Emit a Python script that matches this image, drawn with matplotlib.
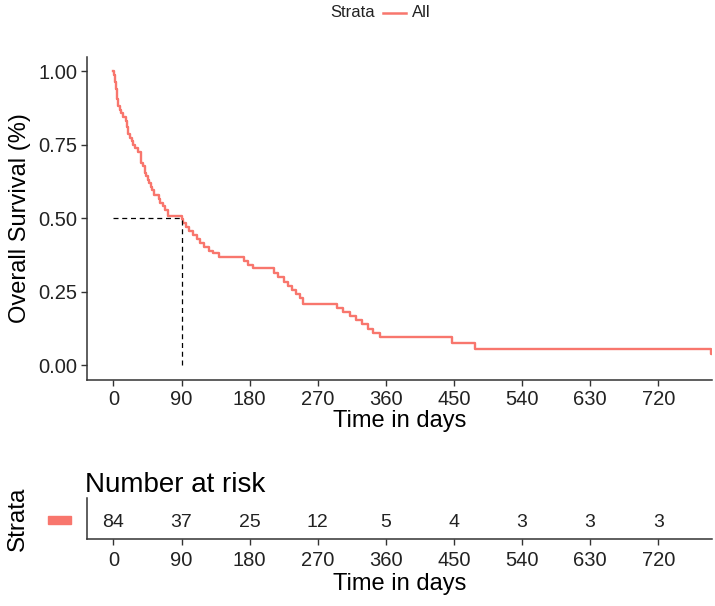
import numpy as np
import matplotlib.pyplot as plt

plt.rcParams['font.family'] = ['Liberation Sans', 'DejaVu Sans']

# Kaplan-Meier curve (step after each time)
time = [0, 1, 2, 3, 4, 5, 6, 8, 10, 13, 17, 18, 19, 22, 24, 26, 29, 33, 36, 37,
        39, 41, 43, 45, 47, 49, 51, 53, 60, 62, 65, 68, 72, 90, 92, 96, 100, 105,
        110, 115, 120, 126, 132, 140, 173, 178, 185, 212, 218, 225, 230, 236,
        241, 246, 250, 296, 303, 312, 320, 328, 336, 343, 352, 448, 478, 790]
surv = [1.0, 0.988, 0.964, 0.94, 0.917, 0.905, 0.881, 0.869, 0.857, 0.845,
        0.833, 0.81, 0.786, 0.774, 0.762, 0.75, 0.738, 0.726, 0.714, 0.69,
        0.679, 0.655, 0.643, 0.631, 0.619, 0.607, 0.595, 0.578, 0.566, 0.554,
        0.542, 0.53, 0.509, 0.497, 0.484, 0.47, 0.457, 0.443, 0.43, 0.416,
        0.403, 0.389, 0.382, 0.369, 0.354, 0.34, 0.33, 0.313, 0.299, 0.285,
        0.271, 0.257, 0.243, 0.228, 0.21, 0.195, 0.181, 0.167, 0.153, 0.139,
        0.125, 0.111, 0.095, 0.076, 0.057, 0.038]
end_time = 791

median_time = 90
risk_times = [0, 90, 180, 270, 360, 450, 540, 630, 720]
at_risk = [84, 37, 25, 12, 5, 4, 3, 3, 3]

col = '#F8766D'
txt = '#222222'

fig = plt.figure(figsize=(7.15, 6.06), dpi=100)

# main survival plot
ax = fig.add_axes([0.1217, 0.3729, 0.874, 0.5335])
ax.step(time + [end_time], surv + [surv[-1]], where='post', color=col, lw=1.7)
ax.plot([0, median_time], [0.5, 0.5], color='black', ls=(0, (4, 3)), lw=0.9)
ax.plot([median_time, median_time], [0, 0.5], color='black', ls=(0, (4, 3)), lw=0.9)
ax.set_xlim(-35, end_time)
ax.set_ylim(-0.05, 1.05)
ax.set_xticks(risk_times)
ax.set_yticks([0, 0.25, 0.5, 0.75, 1.0])
ax.set_yticklabels(['0.00', '0.25', '0.50', '0.75', '1.00'])
ax.tick_params(labelsize=14.5, colors='#333333', labelcolor=txt, length=4, width=1, pad=3)
ax.set_xlabel('Time in days', fontsize=17, color='black', labelpad=1)
ax.set_ylabel('Overall Survival (%)', fontsize=17, color='black', labelpad=5)
for s in ['top', 'right']:
    ax.spines[s].set_visible(False)
for s in ['left', 'bottom']:
    ax.spines[s].set_color('#333333')
    ax.spines[s].set_linewidth(1.1)

# legend at top
fig.text(0.525, 0.979, 'Strata', fontsize=12, color=txt, ha='right', va='center')
fig.add_artist(plt.Line2D([0.535, 0.568], [0.979, 0.979], color=col, lw=1.8))
fig.text(0.576, 0.979, 'All', fontsize=12, color=txt, ha='left', va='center')

# risk table
ax2 = fig.add_axes([0.1217, 0.1106, 0.874, 0.0677])
ax2.set_xlim(-35, end_time)
ax2.set_ylim(0, 1)
for t, n in zip(risk_times, at_risk):
    ax2.text(t, 0.41, str(n), fontsize=14, color=txt, ha='center', va='center')
ax2.set_xticks(risk_times)
ax2.set_yticks([])
ax2.tick_params(labelsize=14.5, colors='#333333', labelcolor=txt, length=4, width=1, pad=5)
ax2.set_xlabel('Time in days', fontsize=17, color='black', labelpad=2)
for s in ['top', 'right']:
    ax2.spines[s].set_visible(False)
for s in ['left', 'bottom']:
    ax2.spines[s].set_color('#333333')
    ax2.spines[s].set_linewidth(1.1)
ax2.set_title('Number at risk', fontsize=20, loc='left', color='black', pad=4, x=-0.003)
fig.add_artist(plt.Rectangle((48 / 715, 1 - 524 / 606), 23 / 715, 8 / 606,
                             color=col, transform=fig.transFigure))
fig.text(18 / 715, 1 - 519 / 606, 'Strata', fontsize=17.5, rotation=90,
         ha='center', va='center', color='black')

fig.savefig('out.png', dpi=100)
